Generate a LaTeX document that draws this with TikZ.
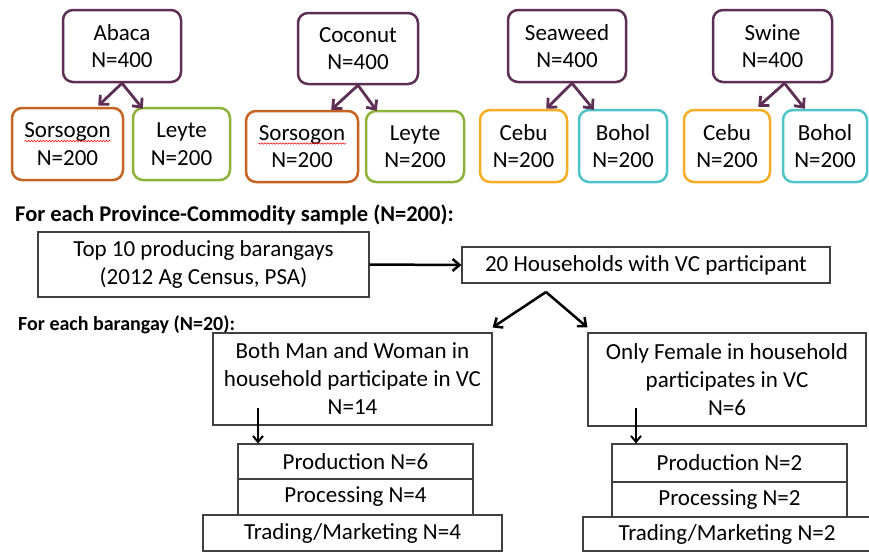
\documentclass[tikz,border=0pt]{standalone}
\usepackage{fontspec}
\setmainfont{Carlito}
\usetikzlibrary{arrows.meta,decorations.pathmorphing,calc}
\definecolor{plum}{HTML}{5D2F55}
\definecolor{rust}{HTML}{C46420}
\definecolor{leaf}{HTML}{8DB33A}
\definecolor{amber}{HTML}{F5AD25}
\definecolor{teal2}{HTML}{4EC4C9}
\definecolor{boxgray}{HTML}{404040}
\begin{document}
\begin{tikzpicture}[x=1pt,y=-1pt,
  cbox/.style={draw, rounded corners=10pt, line width=2.5pt, align=center, inner sep=0pt,
    font=\fontsize{23}{27.5}\selectfont, minimum height=72pt},
  pbox/.style={cbox, draw=plum},
  obox/.style={cbox, draw=rust},
  gbox/.style={cbox, draw=leaf},
  ybox/.style={cbox, draw=amber},
  tbox/.style={cbox, draw=teal2},
  kbox/.style={draw=boxgray, line width=1.1pt, align=center, inner sep=0pt,
    font=\fontsize{23}{28}\selectfont},
  hdr/.style={anchor=west, inner sep=0pt, font=\fontsize{20}{24}\selectfont\bfseries},
  parr/.style={draw=plum, line width=2.8pt, -{Straight Barb[length=7pt,width=13pt]}},
  karr/.style={draw=black, line width=2.5pt, -{Straight Barb[length=7pt,width=12pt]}},
  darr/.style={draw=black, line width=2pt, -{Straight Barb[length=6pt,width=10pt]}},
  wavy/.style={draw=red, line width=0.5pt, decorate, decoration={snake, amplitude=0.7pt, segment length=3pt}}
]
\useasboundingbox (0,0) rectangle (869,552);

% top row
\node[pbox, minimum width=118pt] (abaca) at (122,46) {Abaca\\N=400};
\node[obox, minimum width=111pt] (sor1) at (67.5,144) {Sorsogon\\N=200};
\node[gbox, minimum width=97pt] (ley1) at (181.5,144) {Leyte\\N=200};

\node[pbox, minimum width=120pt, minimum height=71pt] (coco) at (358,48.5) {Coconut\\N=400};
\node[obox, minimum width=112pt, minimum height=71pt] (sor2) at (302,146.5) {Sorsogon\\N=200};
\node[gbox, minimum width=98pt, minimum height=71pt] (ley2) at (415,146.5) {Leyte\\N=200};

\node[pbox, minimum width=118pt] (sea) at (567,46) {Seaweed\\N=400};
\node[ybox, minimum width=87pt] (cebu1) at (523.5,146) {Cebu\\N=200};
\node[tbox, minimum width=88pt] (bohol1) at (623,146) {Bohol\\N=200};

\node[pbox, minimum width=119pt] (swine) at (772.5,46) {Swine\\N=400};
\node[ybox, minimum width=86pt] (cebu2) at (727,146) {Cebu\\N=200};
\node[tbox, minimum width=84pt] (bohol2) at (825,146) {Bohol\\N=200};

\draw[wavy] ($(sor1.center)+(-43,-3)$) -- ($(sor1.center)+(43,-3)$);
\draw[wavy] ($(sor2.center)+(-44,-3)$) -- ($(sor2.center)+(44,-3)$);

\draw[parr] (abaca.south) -- ([xshift=-26pt,yshift=1pt]sor1.north east);
\draw[parr] (abaca.south) -- ([xshift=11pt,yshift=-2pt]ley1.north west);
\draw[parr] (coco.south) -- ([xshift=-28pt]sor2.north east);
\draw[parr] (coco.south) -- ([xshift=12pt,yshift=-1pt]ley2.north west);
\draw[parr] ([xshift=5pt]sea.south) -- ([xshift=-22pt]cebu1.north east);
\draw[parr] ([xshift=5pt]sea.south) -- ([xshift=16pt,yshift=-1pt]bohol1.north west);
\draw[parr] ([xshift=12pt]swine.south) -- ([xshift=-13pt,yshift=2pt]cebu2.north east);
\draw[parr] ([xshift=12pt]swine.south) -- ([xshift=23pt]bohol2.north west);

% middle
\node[hdr, font=\fontsize{22.5}{26}\selectfont\bfseries] (h1) at (15,215) {For each Province-Commodity sample (N=200):};
\node[kbox, minimum width=331pt, minimum height=65pt] (top10) at (203.5,264.5) {Top 10 producing barangays\\(2012 Ag Census, PSA)};
\node[kbox, minimum width=368pt, minimum height=36pt] (hh) at (646,265) {20 Households with VC participant};
\draw[karr] (top10.east) -- (hh.west);

\node[hdr] (h2) at (18,325) {For each barangay (N=20):};
\node[kbox, minimum width=279pt, minimum height=92pt] (both) at (352.5,379) {Both Man and Woman in\\household participate in VC\\N=14};
\node[kbox, minimum width=278pt, minimum height=93pt] (fem) at (727,379.5) {Only Female in household\\participates in VC\\N=6};

\coordinate (ap) at (546,292);
\draw[karr] (ap) -- ([yshift=5pt]both.north east);
\draw[karr] (ap) -- ([yshift=5pt]fem.north west);

% bottom stacks
\node[kbox, minimum width=235pt, minimum height=35pt] (prod1) at (355.5,461.5) {Production N=6};
\node[kbox, minimum width=235pt, minimum height=36pt] (proc1) at (355.5,497) {Processing N=4};
\node[kbox, minimum width=299pt, minimum height=36pt] (trad1) at (352.5,533) {Trading/Marketing N=4};

\node[kbox, minimum width=235pt, minimum height=38pt] (prod2) at (729.5,463) {Production N=2};
\node[kbox, minimum width=235pt, minimum height=35pt] (proc2) at (729.5,499.5) {Processing N=2};
\node[kbox, minimum width=288pt, minimum height=34pt] (trad2) at (727,534) {Trading/Marketing N=2};

\coordinate (d1) at (258,408);
\coordinate (d2) at (636,408);
\draw[darr] (d1) -- (d1 |- prod1.north);
\draw[darr] (d2) -- (d2 |- prod2.north);
\end{tikzpicture}
\end{document}
